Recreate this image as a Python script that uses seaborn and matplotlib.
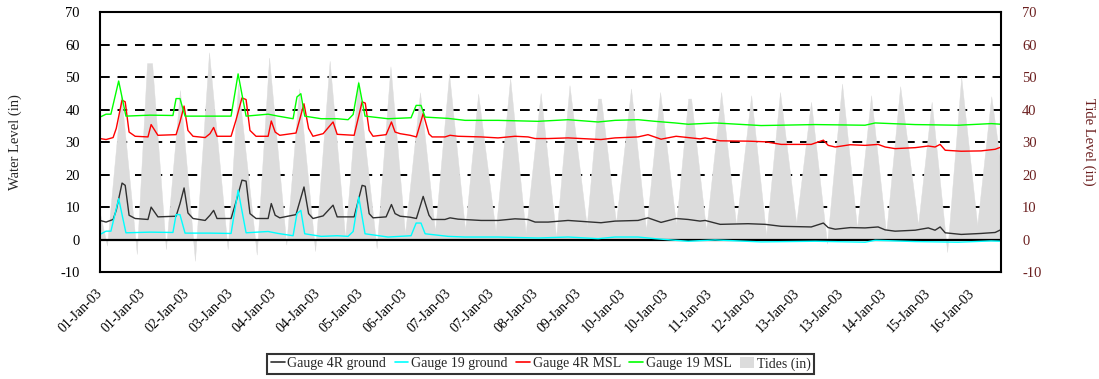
import numpy as np
import pandas as pd
import matplotlib
matplotlib.use("Agg")
import matplotlib.pyplot as plt
from matplotlib.lines import Line2D
from matplotlib.patches import Patch
import seaborn as sns

# ---------------- data (hours after 01-Jan-03 00:00) ----------------
start = pd.Timestamp("2003-01-01 00:00")

g4r_hours = [0, 2.5, 5.4, 6.7, 9.1, 10.4, 12.0, 14.5, 19.8, 21.1,
             23.9, 31.4, 33.0, 34.7, 36.3, 38.4, 43.4, 45.4, 46.9, 48.3,
             54.1, 56.1, 58.6, 60.3, 61.9, 64.4, 69.4, 70.7, 72.3, 74.2,
             80.9, 84.2, 86.1, 87.9, 92.1, 96.2, 97.9, 104.9, 108.2, 109.5,
             111.1, 112.7, 118.1, 120.3, 121.8, 123.9, 128.0, 130.6, 133.4, 135.8,
             137.1, 142.4, 144.5, 147.8, 157.3, 164.3, 171.3, 176.7, 179.6, 185.0,
             193.2, 206.8, 212.6, 222.1, 226.2, 231.6, 237.8, 242.8, 247.7, 249.8,
             256.0, 267.5, 274.6, 281.2, 293.6, 298.6, 300.6, 303.5, 309.7, 315.8,
             321.2, 324.1, 328.2, 336.5, 341.9, 344.7, 346.8, 348.9, 355.5, 363.7,
             369.5, 372.0]
g4r_ground = [5.9, 5.4, 6.2, 9.0, 17.4, 16.7, 7.5, 6.5, 6.2, 10.0,
              7.0, 7.2, 11.0, 15.9, 8.2, 6.5, 5.9, 7.5, 9.0, 6.5,
              6.5, 11.5, 18.3, 18.0, 8.0, 6.5, 6.5, 11.1, 7.5, 6.7,
              7.7, 16.2, 8.0, 6.5, 7.3, 10.6, 7.0, 7.0, 16.7, 16.4,
              8.0, 6.7, 7.0, 10.8, 8.0, 7.2, 6.9, 6.5, 13.3, 7.5,
              6.2, 6.2, 6.7, 6.3, 5.9, 5.9, 6.4, 6.2, 5.4, 5.4,
              5.9, 5.2, 5.7, 5.9, 6.7, 5.3, 6.5, 6.2, 5.7, 5.9,
              4.7, 4.9, 4.7, 4.1, 3.9, 5.1, 3.7, 3.2, 3.7, 3.6,
              3.9, 3.0, 2.6, 2.9, 3.6, 2.9, 3.9, 2.1, 1.6, 1.9,
              2.2, 3.1]
g4r_msl = [31.1, 30.8, 31.4, 34.2, 42.9, 42.4, 33.1, 31.8, 31.6, 35.4,
           32.1, 32.3, 36.2, 41.1, 33.6, 31.8, 31.4, 32.6, 34.5, 31.8,
           31.8, 36.7, 43.6, 43.1, 33.6, 31.8, 31.8, 36.5, 33.1, 32.1,
           32.8, 41.8, 34.2, 31.8, 32.6, 36.2, 32.4, 32.1, 42.4, 42.0,
           33.6, 31.8, 32.3, 36.2, 33.1, 32.6, 32.1, 31.6, 38.8, 32.5,
           31.6, 31.6, 32.1, 31.8, 31.6, 31.3, 31.8, 31.6, 31.1, 31.1,
           31.3, 30.8, 31.3, 31.6, 32.3, 30.9, 31.8, 31.4, 31.0, 31.3,
           30.4, 30.3, 30.1, 29.3, 29.3, 30.6, 29.0, 28.5, 29.2, 29.0,
           29.3, 28.5, 28.0, 28.3, 28.8, 28.5, 29.3, 27.5, 27.2, 27.3,
           27.8, 28.5]

g19_hours = [0, 2.5, 4.5, 7.7, 10.7, 20.6, 30.1, 31.4, 33.0, 35.1,
             45.4, 54.1, 57.0, 60.3, 69.4, 73.5, 79.7, 81.3, 82.9, 84.5,
             91.3, 97.9, 102.4, 104.5, 106.8, 109.4, 118.9, 128.4, 130.5, 132.5,
             134.2, 143.7, 150.7, 164.3, 180.8, 193.2, 205.6, 212.6, 222.1, 229.1,
             237.4, 242.8, 253.9, 272.9, 295.2, 315.8, 320.0, 336.5, 354.2, 367.9,
             372.0]
g19_ground = [1.6, 2.6, 2.6, 12.6, 2.1, 2.3, 2.2, 7.7, 7.7, 2.0,
              2.0, 1.9, 15.2, 2.1, 2.5, 1.9, 1.2, 8.0, 9.0, 1.8,
              1.0, 1.2, 1.0, 2.5, 13.1, 1.8, 0.8, 1.2, 5.1, 5.1,
              1.8, 1.0, 0.8, 0.8, 0.5, 0.8, 0.3, 0.8, 0.8, 0.3,
              -0.2, -0.5, -0.1, -0.7, -0.5, -0.8, -0.2, -0.6, -0.8, -0.4,
              -0.5]
g19_msl = [37.7, 38.6, 38.6, 48.8, 38.0, 38.3, 38.2, 43.4, 43.4, 38.0,
           38.0, 38.0, 51.0, 38.0, 38.6, 38.0, 37.2, 43.9, 44.9, 38.0,
           37.2, 37.2, 36.9, 38.5, 48.2, 38.0, 37.2, 37.5, 41.3, 41.3,
           37.7, 37.3, 36.7, 36.7, 36.4, 36.9, 36.2, 36.7, 36.9, 36.4,
           35.9, 35.5, 35.9, 35.1, 35.4, 35.2, 35.9, 35.4, 35.2, 35.7,
           35.5]

tide_hours = [0, 2.9, 8.7, 15.2, 19.4, 21.5, 27.2, 33.0, 39.2, 45.0,
              52.7, 57.0, 64.7, 69.8, 76.9, 82.2, 88.8, 94.8, 101.2, 106.5,
              114.2, 119.9, 125.9, 132.1, 138.3, 144.1, 150.7, 156.1, 163.3, 169.3,
              175.7, 181.9, 188.3, 193.8, 200.9, 205.6, 206.8, 213.0, 219.2, 225.4,
              231.2, 237.8, 242.8, 244.0, 250.2, 256.4, 262.6, 268.8, 275.0, 280.7,
              287.4, 293.5, 300.1, 306.3, 312.5, 318.3, 324.5, 330.3, 337.7, 343.3,
              349.7, 355.5, 362.1, 367.9, 372.0]
tide_level = [8.0, -1.8, 45.0, -4.4, 54.3, 54.3, -2.9, 46.0, -6.5, 57.6,
              -2.9, 48.0, -4.6, 56.0, -1.5, 46.5, -3.5, 55.0, 0.5, 49.0,
              -2.6, 53.3, 1.7, 45.3, 2.5, 51.1, 2.9, 44.9, 2.5, 49.7,
              2.0, 45.1, 0.7, 47.5, 4.2, 43.4, 43.4, 5.2, 46.5, 2.9,
              45.4, 4.5, 43.4, 43.4, 2.9, 45.4, 4.4, 44.4, 1.3, 45.4,
              5.0, 42.4, -1.2, 48.0, 3.5, 44.4, 1.8, 47.2, 4.5, 42.4,
              -3.8, 50.0, 4.4, 44.1, 22.0]

tick_labels = ["01-Jan-03", "01-Jan-03", "02-Jan-03", "03-Jan-03", "04-Jan-03",
               "04-Jan-03", "05-Jan-03", "06-Jan-03", "07-Jan-03", "07-Jan-03",
               "08-Jan-03", "09-Jan-03", "10-Jan-03", "10-Jan-03", "11-Jan-03",
               "12-Jan-03", "13-Jan-03", "13-Jan-03", "14-Jan-03", "15-Jan-03",
               "16-Jan-03"]
tick_step_hours = 18
y_ticks = [-10, 0, 10, 20, 30, 40, 50, 60, 70]
grid_levels = [10, 20, 30, 40, 50, 60]

# ---------------- frames ----------------
def to_time(hours):
    return start + pd.to_timedelta(np.asarray(hours, dtype=float), unit="h")

df4r = pd.DataFrame({"time": to_time(g4r_hours), "ground": g4r_ground, "msl": g4r_msl})
df19 = pd.DataFrame({"time": to_time(g19_hours), "ground": g19_ground, "msl": g19_msl})
dft = pd.DataFrame({"time": to_time(tide_hours), "tide": tide_level})

# ---------------- style ----------------
sns.set_style("white")
plt.rcParams["font.family"] = ["Liberation Serif", "DejaVu Serif"]
plt.rcParams["font.size"] = 10
plt.rcParams["axes.unicode_minus"] = False

fig = plt.figure(figsize=(10.99, 3.79), dpi=100)
ax = fig.add_axes([0.091, 0.282, 0.820, 0.686])
ax.grid(False)

c_black = "#303030"
c_cyan = "#00FFFF"
c_red = "#FF0000"
c_green = "#00FF00"
c_tide = "#DCDCDC"
c_maroon = "#6B1F1F"

# dashed major gridlines, kept behind the tide area
for lev in grid_levels:
    ax.axhline(lev, color="black", linestyle=(0, (5, 4)), linewidth=1.4, zorder=0.6)

# tides (secondary-axis series, same scale)
ax.fill_between(dft["time"], dft["tide"], 0, color=c_tide, linewidth=0.3,
                edgecolor=c_tide, zorder=1)

ax.axhline(0, color="black", linewidth=1.6, zorder=2.5)

lw = 1.0
sns.lineplot(data=df4r, x="time", y="ground", ax=ax, color=c_black, linewidth=lw,
             estimator=None, sort=False, zorder=3)
sns.lineplot(data=df19, x="time", y="ground", ax=ax, color=c_cyan, linewidth=lw,
             estimator=None, sort=False, zorder=3)
sns.lineplot(data=df4r, x="time", y="msl", ax=ax, color=c_red, linewidth=lw,
             estimator=None, sort=False, zorder=3)
sns.lineplot(data=df19, x="time", y="msl", ax=ax, color=c_green, linewidth=lw,
             estimator=None, sort=False, zorder=3)

ax.set_ylim(-10, 70)
ax.set_yticks(y_ticks)
ax.set_xlim(start, start + pd.Timedelta(hours=372))
tick_times = [start + pd.Timedelta(hours=tick_step_hours * k) for k in range(len(tick_labels))]
ax.set_xticks(tick_times)
ax.set_xticklabels(tick_labels, rotation=45, ha="right", va="center", rotation_mode="anchor")
ax.tick_params(axis="x", length=0, pad=14, labelsize=10, colors="black")
ax.tick_params(axis="y", length=0, pad=14.5, labelsize=10.5, colors="black")
ax.set_xlabel("")
ax.set_ylabel("Water Level (in)", fontsize=10.5)
ax.yaxis.set_label_coords(-0.0866, 0.5)
for s in ax.spines.values():
    s.set_color("black")
    s.set_linewidth(1.5)
    s.set_visible(True)
    s.set_zorder(4)

ax2 = ax.twinx()
ax2.set_ylim(-10, 70)
ax2.set_yticks(y_ticks)
ax2.tick_params(axis="y", length=0, pad=15, labelsize=10.5, labelcolor=c_maroon)
ax2.grid(False)
ax2.set_ylabel("Tide Level (in)", fontsize=10.5, color=c_maroon, rotation=270)
ax2.yaxis.set_label_coords(1.1045, 0.5)
for s in ax2.spines.values():
    s.set_visible(False)

handles = [Line2D([], [], color=c_black, lw=1.2),
           Line2D([], [], color=c_cyan, lw=1.2),
           Line2D([], [], color=c_red, lw=1.2),
           Line2D([], [], color=c_green, lw=1.2),
           Patch(facecolor=c_tide, edgecolor="none")]
labels = ["Gauge 4R ground", "Gauge 19 ground", "Gauge 4R MSL", "Gauge 19 MSL", "Tides (in)"]
leg = fig.legend(handles, labels, loc="center", bbox_to_anchor=(0.492, 0.04), ncol=5,
                 frameon=True, fancybox=False, edgecolor="black", fontsize=10,
                 handlelength=1.0, handleheight=0.8, handletextpad=0.2, columnspacing=0.6,
                 borderpad=0.25, borderaxespad=0)
leg.get_frame().set_linewidth(1.5)

fig.savefig("out.png", dpi=100)
